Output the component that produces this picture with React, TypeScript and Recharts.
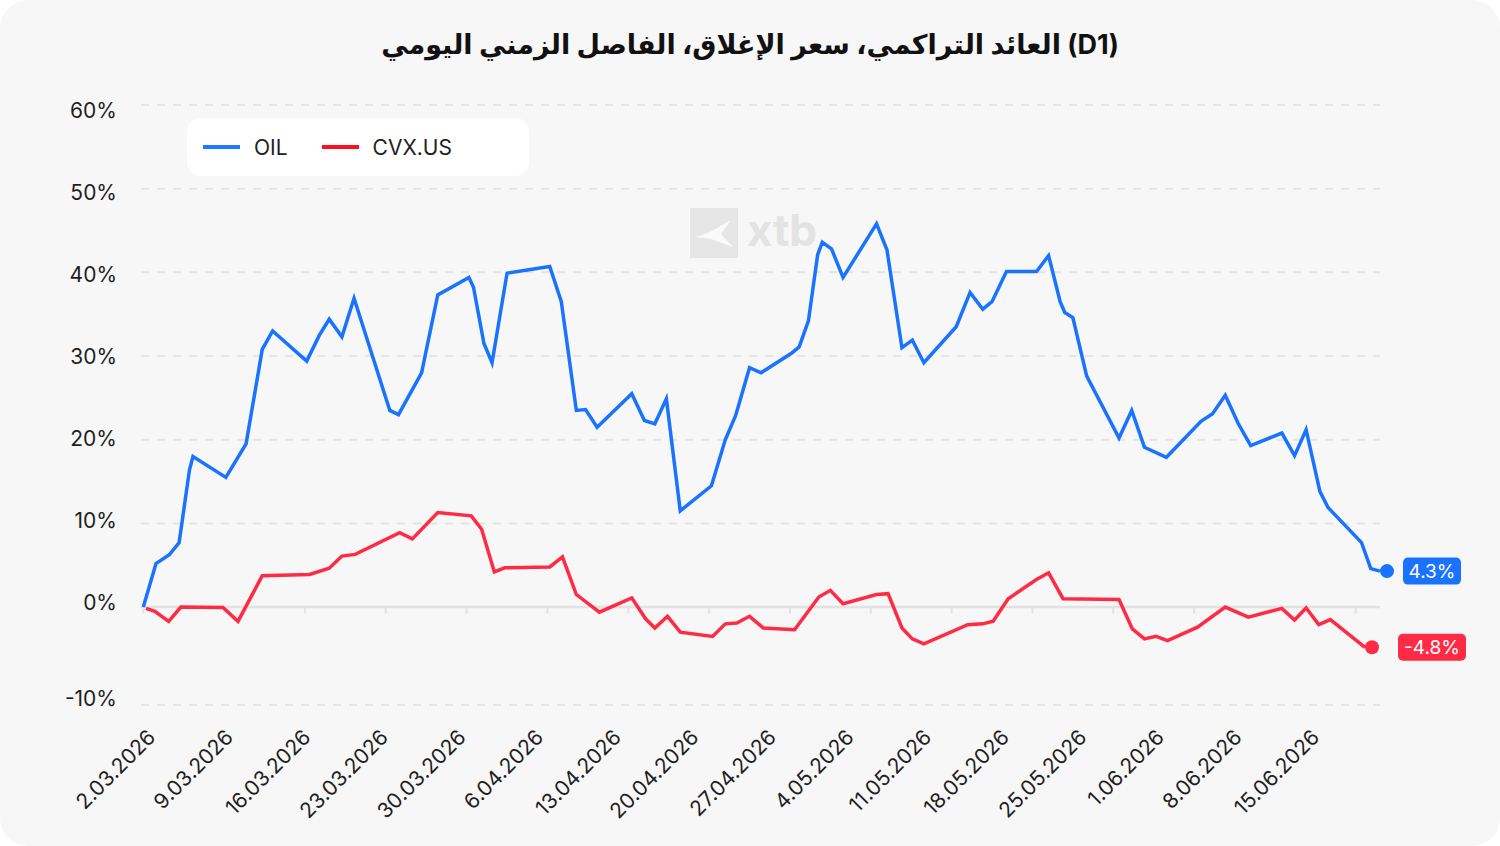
import React from 'react';
import { LineChart, Line, XAxis, YAxis, CartesianGrid, ReferenceLine } from 'recharts';

const FONT = "Inter, 'DejaVu Sans', sans-serif";
const TITLE = 'العائد التراكمي، سعر الإغلاق، الفاصل الزمني اليومي (D1)';

// x positions are days since 2.03.2026
const tickDays = [0, 7, 14, 21, 28, 35, 42, 49, 56, 63, 70, 77, 84, 91, 98, 105];
const tickLabels = [
  '2.03.2026', '9.03.2026', '16.03.2026', '23.03.2026', '30.03.2026', '6.04.2026',
  '13.04.2026', '20.04.2026', '27.04.2026', '4.05.2026', '11.05.2026', '18.05.2026',
  '25.05.2026', '1.06.2026', '8.06.2026', '15.06.2026'
];
const yTicks = [-11.7, 0, 10, 20, 30, 40, 50, 60];

const oilDays = [
  0, 1.1, 2.25, 3.1, 4.0, 4.3, 7.15, 8.9, 10.3, 11.2, 14.15, 15.25, 16.1, 17.2, 18.25,
  21.35, 22.1, 24.1, 25.5, 28.2, 28.6, 29.5, 30.2, 31.5, 35.2, 36.2, 37.5, 38.3, 39.3,
  42.3, 43.4, 44.3, 45.3, 46.5, 49.2, 50.4, 51.3, 52.5, 53.5, 56.1, 56.8, 57.6, 58.4,
  58.8, 59.6, 60.6, 63.5, 64.4, 65.7, 66.6, 67.6, 70.4, 71.6, 72.7, 73.5, 74.75, 77.35,
  78.4, 79.4, 79.8, 80.5, 81.7, 84.5, 85.6, 86.7, 88.6, 91.6, 92.6, 93.7, 94.8, 95.9,
  98.6, 99.7, 100.7, 101.9, 102.6, 105.5, 106.3, 107.1
];
const oilValues = [
  0, 5.2, 6.25, 7.7, 16.4, 18.0, 15.5, 19.5, 30.8, 33.0, 29.4, 32.5, 34.4, 32.3, 36.9,
  23.5, 23.0, 28.0, 37.3, 39.4, 38.2, 31.5, 29.2, 39.9, 40.7, 36.5, 23.5, 23.6, 21.5,
  25.5, 22.3, 21.9, 24.9, 11.5, 14.5, 20.0, 22.9, 28.6, 28.0, 30.3, 31.1, 34.2, 42.1,
  43.6, 42.8, 39.4, 45.8, 42.7, 31.0, 31.9, 29.2, 33.5, 37.6, 35.6, 36.5, 40.1, 40.1,
  42.0, 36.5, 35.2, 34.6, 27.6, 20.2, 23.5, 19.1, 17.9, 22.2, 23.1, 25.3, 22.0, 19.3,
  20.8, 18.1, 21.2, 13.8, 11.9, 7.7, 4.6, 4.3
];

const cvxDays = [
  0.23, 1.0, 2.2, 3.25, 6.9, 8.2, 10.3, 14.4, 16.1, 17.2, 18.35, 22.2, 23.3, 25.5, 28.4,
  29.3, 30.4, 31.3, 35.2, 36.3, 37.5, 39.5, 42.3, 43.5, 44.3, 45.4, 46.5, 49.3, 50.4,
  51.4, 52.5, 53.7, 56.4, 58.5, 59.5, 60.6, 63.5, 64.5, 65.7, 66.6, 67.6, 71.4, 72.7,
  73.6, 74.9, 77.35, 78.4, 79.65, 84.5, 85.65, 86.7, 87.7, 88.7, 91.3, 93.7, 95.7, 98.6,
  99.7, 100.7, 101.8, 102.8, 105.8
];
const cvxValues = [
  -0.15, -0.5, -1.7, 0.0, -0.05, -1.7, 3.75, 3.9, 4.65, 6.1, 6.3, 8.9, 8.15, 11.3, 10.9,
  9.3, 4.2, 4.7, 4.8, 6.0, 1.5, -0.6, 1.1, -1.4, -2.5, -1.1, -3.0, -3.5, -2.0,
  -1.9, -1.1, -2.5, -2.7, 1.2, 2.0, 0.4, 1.5, 1.6, -2.5, -3.8, -4.4, -2.1, -2.0,
  -1.7, 1.0, 3.3, 4.1, 1.0, 0.9, -2.6, -3.8, -3.5, -4.0, -2.4, 0.0, -1.2, -0.15,
  -1.55, -0.1, -2.1, -1.5, -4.8
];

const OIL_COLOR = '#1a73ff';
const CVX_COLOR = '#ff2b45';

const toRows = (days: number[], values: number[]) => days.map((day, i) => ({ day, value: values[i] }));
const oilData = toRows(oilDays, oilValues);
const cvxData = toRows(cvxDays, cvxValues);

const series = [
  { name: 'OIL', data: oilData, color: OIL_COLOR, legend: '#1f78ff' },
  { name: 'CVX.US', data: cvxData, color: CVX_COLOR, legend: '#ff1020' }
];

const WIDTH = 1500;
const HEIGHT = 846;
const PLOT_LEFT = 141;
const PLOT_RIGHT = 1380;

// the source spaces its axis labels slightly tighter than its gridlines
const X_LABEL_SQUEEZE = 0.96;
const Y_LABEL_SQUEEZE = 0.981;

const DateTick = ({ x, y, payload }: any) => {
  const label = tickLabels[tickDays.indexOf(payload.value)] ?? '';
  const lx = PLOT_LEFT + 2 + (x - PLOT_LEFT - 2) * X_LABEL_SQUEEZE + 5;
  return (
    <g transform={`translate(${lx},${y + 17})`}>
      <text x={0} y={0} dy={12} textAnchor="end" transform="rotate(-45)" fontSize={21} fill="#1f1f1f" fontFamily={FONT}>
        {label}
      </text>
    </g>
  );
};

const PercentTick = ({ x, y, payload }: any) => (
  <text x={x} y={7.3 + y * Y_LABEL_SQUEEZE} dy="0.36em" textAnchor="end" fontSize={21} fill="#1f1f1f" fontFamily={FONT}>
    {`${Math.round(payload.value / 10) * 10}%`}
  </text>
);

// dot + value badge on the last point of a series
const endMarker = (color: string, count: number) => (props: any) => {
  const { cx, cy, index, value } = props;
  if (index !== count - 1) return <g key={`d-${index}`} />;
  const text = `${Number(value).toFixed(1)}%`;
  const w = text.length * 10 + 18;
  const bx = PLOT_RIGHT + 52;
  return (
    <g key={`d-${index}`}>
      <circle cx={cx + 7} cy={cy} r={7} fill={color} />
      <rect x={bx - w / 2} y={cy - 13.5} width={w} height={27} rx={5} fill={color} />
      <text x={bx} y={cy} dy={6.5} textAnchor="middle" fontSize={19} fill="#fff" fontFamily={FONT}>
        {text}
      </text>
    </g>
  );
};

const Watermark = () => (
  <div style={{ position: 'absolute', left: 690, top: 208, display: 'flex', alignItems: 'center' }}>
    <div style={{ width: 48, height: 50, background: '#e6e6e6' }}>
      <svg width={48} height={50}>
        <polygon points="6,29 20,24 41,12 31,26 43,39 21,31" fill="#fafafa" />
      </svg>
    </div>
    <div style={{ marginLeft: 9, fontSize: 44, fontWeight: 700, color: '#e3e3e3', fontFamily: FONT, lineHeight: 1, marginTop: -6 }}>
      xtb
    </div>
  </div>
);

const LegendBox = () => (
  <div
    style={{
      position: 'absolute', left: 187, top: 118, width: 342, height: 58, background: '#fff',
      borderRadius: 14, display: 'flex', alignItems: 'center', paddingLeft: 16, boxSizing: 'border-box'
    }}
  >
    {series.map((s) => (
      <div key={s.name} style={{ display: 'flex', alignItems: 'center', marginRight: 34 }}>
        <div style={{ width: 37, height: 3.5, background: s.legend }} />
        <span style={{ marginLeft: 14, fontSize: 21, color: '#222', fontFamily: FONT }}>{s.name}</span>
      </div>
    ))}
  </div>
);

export default function App() {
  return (
    <div style={{ width: WIDTH, height: HEIGHT, background: '#fff' }}>
      <style>{'body { margin: 0; }'}</style>
      <div style={{ position: 'relative', width: WIDTH, height: HEIGHT, background: '#f7f7f7', borderRadius: 28, overflow: 'hidden' }}>
        <div
          style={{
            position: 'absolute', top: 28, left: 0, width: WIDTH, textAlign: 'center',
            fontSize: 27, fontWeight: 700, color: '#111', fontFamily: FONT
          }}
        >
          {TITLE}
        </div>
        <Watermark />
        <div style={{ position: 'absolute', left: 0, top: 0 }}>
          <LineChart width={WIDTH} height={HEIGHT} margin={{ top: 105, right: WIDTH - PLOT_RIGHT, bottom: 0, left: 0 }}>
            <CartesianGrid vertical={false} strokeDasharray="8 8" stroke="#e4e4e4" strokeWidth={2} />
            <XAxis
              type="number"
              dataKey="day"
              domain={[-0.2, 107.1]}
              ticks={tickDays}
              interval={0}
              height={141}
              axisLine={false}
              tickLine={false}
              tickMargin={2}
              tick={<DateTick />}
            />
            <YAxis
              type="number"
              domain={[-11.7, 60]}
              ticks={yTicks}
              interval={0}
              width={PLOT_LEFT}
              axisLine={false}
              tickLine={false}
              tickMargin={18}
              tick={<PercentTick />}
            />
            <ReferenceLine y={0} stroke="#e2e2e2" strokeWidth={2.5} />
            {tickDays.map((d) => (
              <ReferenceLine key={`t-${d}`} segment={[{ x: d, y: 0 }, { x: d, y: -0.75 }]} stroke="#e2e2e2" strokeWidth={2} />
            ))}
            {series.map((s) => (
              <Line
                key={s.name}
                data={s.data}
                dataKey="value"
                name={s.name}
                type="linear"
                stroke={s.color}
                strokeWidth={3.5}
                dot={endMarker(s.color, s.data.length)}
                activeDot={false}
                isAnimationActive={false}
              />
            ))}
          </LineChart>
        </div>
        <LegendBox />
      </div>
    </div>
  );
}
